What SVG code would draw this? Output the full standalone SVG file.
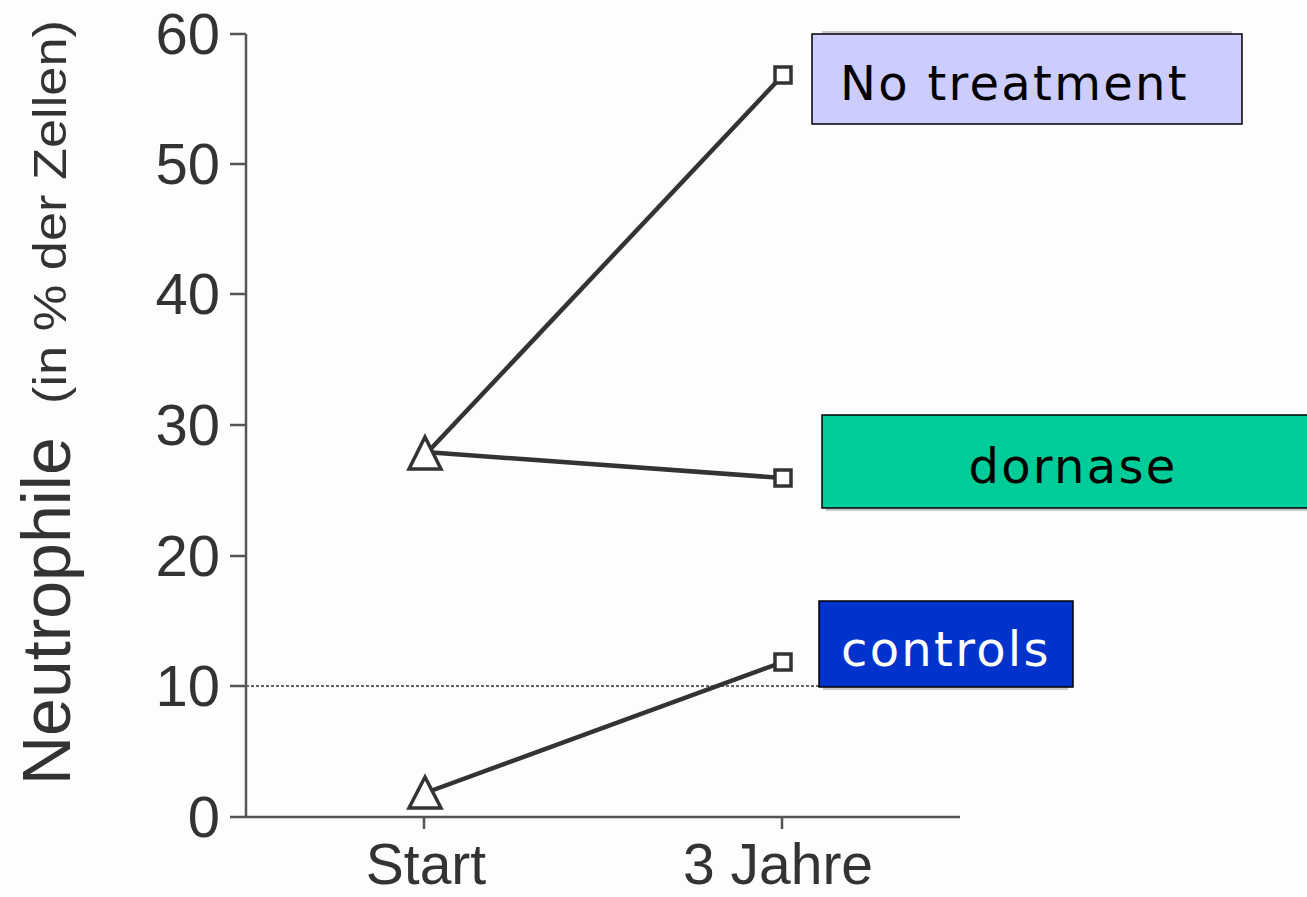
<svg xmlns="http://www.w3.org/2000/svg" width="1307" height="897" viewBox="0 0 1307 897">
<style>
.ax{stroke:#555;stroke-width:2.5;fill:none}
.tk{font-family:"Liberation Sans",Arial,sans-serif;font-size:58px;fill:#333;text-anchor:end}
.xl{font-family:"Liberation Sans",Arial,sans-serif;font-size:57px;fill:#333;text-anchor:middle}
.ser{stroke:#333;stroke-width:4.5;fill:none}
.mk{stroke:#333;stroke-width:3.5;fill:#fff}
.lab{font-family:"DejaVu Sans",Verdana,sans-serif;font-size:48px;letter-spacing:2.3px}
.shadow{fill:#888;opacity:0.45}
</style>
<rect width="1307" height="897" fill="#fdfdfd"/>
<g id="axis-title">
<text transform="translate(70,785) rotate(-90)" font-family="Liberation Sans, Arial, sans-serif" fill="#333" font-size="68px">Neutrophile</text>
<text transform="translate(66,404) rotate(-90)" font-family="Liberation Sans, Arial, sans-serif" fill="#333" font-size="46px" textLength="384" lengthAdjust="spacingAndGlyphs">(in % der Zellen)</text>
</g>
<g id="axes">
<line class="ax" x1="246" y1="34" x2="246" y2="817"/>
<line class="ax" x1="230" y1="817" x2="960" y2="817"/>
<path class="ax" d="M230 34H246M230 164H246M230 294H246M230 425H246M230 556H246M230 686H246M424 817V829M782 817V829"/>
<line x1="246" y1="686" x2="1065" y2="686" stroke="#666" stroke-width="2" stroke-dasharray="3,2"/>
<text class="tk" x="220" y="54">60</text>
<text class="tk" x="220" y="184">50</text>
<text class="tk" x="220" y="314">40</text>
<text class="tk" x="220" y="445">30</text>
<text class="tk" x="220" y="576">20</text>
<text class="tk" x="220" y="706">10</text>
<text class="tk" x="220" y="837">0</text>
<text class="xl" x="426" y="884">Start</text>
<text class="xl" x="778" y="884">3 Jahre</text>
</g>
<g id="connectors">
<line class="ser" x1="425" y1="455" x2="783" y2="75"/>
<line class="ser" x1="425" y1="452" x2="783" y2="478"/>
<line class="ser" x1="425" y1="793" x2="783" y2="662"/>
</g>
<g id="markers">
<path class="mk" d="M425 437L441 469H409Z"/>
<path class="mk" d="M425 777L441 808H409Z"/>
<rect class="mk" x="775" y="67" width="16" height="16"/>
<rect class="mk" x="775" y="470" width="16" height="16"/>
<rect class="mk" x="775" y="654" width="16" height="16"/>
</g>
<g id="no-treatment">
<rect class="shadow" x="822" y="31" width="410" height="3"/>
<rect x="812" y="34" width="430" height="90" fill="#ccccff" stroke="#000" stroke-width="1.5"/>
<text class="lab" x="840" y="100" fill="#000">No treatment</text>
</g>
<g id="dornase">
<rect class="shadow" x="826" y="508" width="481" height="3"/>
<rect x="822" y="415" width="490" height="93" fill="#00cc99" stroke="#000" stroke-width="1.5"/>
<text class="lab" x="1073" y="483" fill="#000" text-anchor="middle">dornase</text>
</g>
<g id="controls">
<rect class="shadow" x="823" y="687" width="245" height="3"/>
<rect x="819" y="601" width="254" height="86" fill="#0033cc" stroke="#000" stroke-width="1.5"/>
<text class="lab" x="841" y="666" fill="#fff">controls</text>
</g>
</svg>
